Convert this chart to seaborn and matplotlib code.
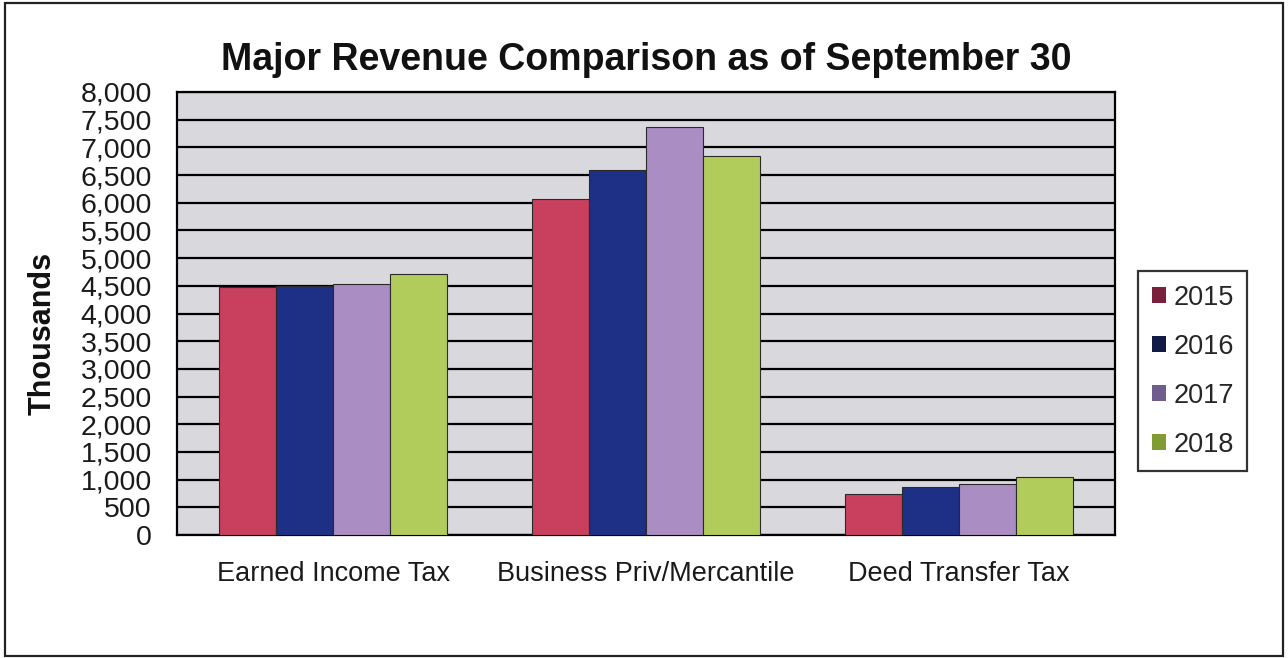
import matplotlib
matplotlib.use("Agg")
import matplotlib.pyplot as plt
import matplotlib.patches as mpatches
from matplotlib.ticker import FuncFormatter, MultipleLocator
import numpy as np
import pandas as pd
import seaborn as sns

# Revenue by source (thousands of dollars), year to date as of September 30
categories = ["Earned Income Tax", "Business Priv/Mercantile", "Deed Transfer Tax"]
years = ["2015", "2016", "2017", "2018"]
values_2015 = [4470, 6070, 740]
values_2016 = [4500, 6600, 870]
values_2017 = [4540, 7370, 930]
values_2018 = [4710, 6850, 1040]

bar_colors = ["#c9405e", "#1e2f86", "#aa8dc2", "#b2cc5c"]
legend_colors = ["#7a1f3c", "#111b45", "#6e5d8e", "#809c33"]

df = pd.DataFrame({
    "category": np.repeat(categories, len(years)),
    "year": years * len(categories),
    "value": np.array([values_2015, values_2016, values_2017, values_2018]).T.ravel(),
})

sns.set_style("white")
plt.rcParams["font.family"] = ["Liberation Sans", "DejaVu Sans"]

fig = plt.figure(figsize=(12.88, 6.58), dpi=100)
ax = fig.add_axes([0.1374, 0.1869, 0.7283, 0.6733])
ax.set_facecolor("#d9d8dd")

sns.barplot(data=df, x="category", y="value", hue="year", order=categories,
            hue_order=years, palette=bar_colors, width=0.73, saturation=1,
            edgecolor="#2a2a2a", linewidth=0.8, legend=False, ax=ax, zorder=3)

ax.set_ylim(0, 8000)
ax.set_xlim(-0.5, 2.5)
ax.yaxis.set_major_locator(MultipleLocator(500))
ax.yaxis.set_major_formatter(FuncFormatter(lambda v, _: f"{int(v):,}"))
ax.grid(axis="y", color="black", linewidth=1.6, zorder=1)
ax.set_axisbelow(True)

for s in ax.spines.values():
    s.set_color("black")
    s.set_linewidth(1.6)

ax.tick_params(axis="y", direction="out", length=6, width=1.6, color="black",
               labelsize=20.5, pad=12, labelcolor="#1a1a1a")
ax.tick_params(axis="x", which="major", length=0, labelsize=19.5, pad=19,
               labelcolor="#1a1a1a")
ax.set_xticks([-0.5, 0.5, 1.5, 2.5], minor=True)
ax.tick_params(axis="x", which="minor", direction="out", length=8, width=1.6,
               color="black")

ax.set_xlabel("")
ax.set_ylabel("")
ax.text(-0.143, 0.456, "Thousands", transform=ax.transAxes, rotation=90,
        ha="center", va="center", fontsize=22, fontweight="bold", color="#111111")

ax.set_title("Major Revenue Comparison as of September 30", fontsize=27,
             fontweight="bold", color="#111111", pad=16)

handles = [mpatches.Patch(facecolor=c, edgecolor="none", label=y)
           for c, y in zip(legend_colors, years)]
leg = ax.legend(handles=handles, loc="center left", bbox_to_anchor=(1.0245, 0.37),
                borderaxespad=0, frameon=True, fontsize=19.5, handlelength=0.55,
                handleheight=0.55, handletextpad=0.25, labelspacing=0.85,
                borderpad=0.5, fancybox=False, edgecolor="black")
leg.get_frame().set_linewidth(1.6)

fig.patches.append(mpatches.Rectangle((0.004, 0.003), 0.992, 0.993,
                                      transform=fig.transFigure, fill=False,
                                      edgecolor="#222222", linewidth=1.6))

fig.savefig("out.png", dpi=100, facecolor="white")
